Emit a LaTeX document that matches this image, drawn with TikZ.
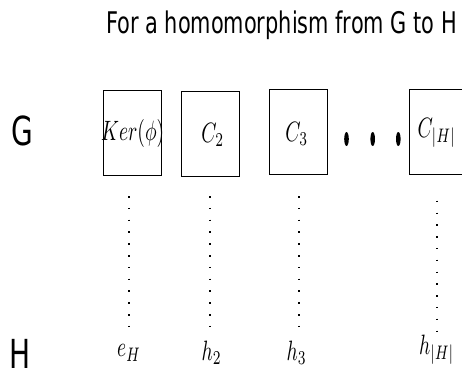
\documentclass[tikz,border=0pt]{standalone}
\usepackage{fontspec}
\newfontfamily\labelfont{DejaVu Sans}
\tikzset{
  cosetbox/.style={draw=black, line width=0.8pt, minimum width=58pt, minimum height=85pt, inner sep=0pt},
  mathlbl/.style={inner sep=0pt},
  dotline/.style={line width=1.5pt, dash pattern=on 1.5pt off 10.3pt},
  sidelbl/.style={inner sep=0pt, anchor=base, font=\labelfont\fontsize{40}{44}\selectfont},
  titlelbl/.style={inner sep=0pt, anchor=base, font=\labelfont\fontsize{29.8}{33}\selectfont},
}
\newcommand{\sq}[1]{\scalebox{0.7}[1]{#1}}
\newcommand{\mq}[1]{\scalebox{1.95}[2.8]{$#1$}}
\begin{document}
\begin{tikzpicture}[x=1pt,y=-1pt]
\useasboundingbox (0,0) rectangle (462,377);
\clip (0,0) rectangle (462,377);
% title
\node[titlelbl] (title) at (281.5,33.3) {\sq{For a homomorphism from G to H}};
% side labels
\node[sidelbl] (G) at (22.5,145) {\sq{G}};
\node[sidelbl] (H) at (19.7,368) {\sq{H}};
% boxes
\node[cosetbox] (k) at (132.7,132.7) {};
\node[cosetbox] (c2) at (210.3,133.5) {};
\node[cosetbox] (c3) at (298.7,131.8) {};
\node[cosetbox] (cn) at (438.3,132.2) {};
\node[mathlbl] (kl) at (132.7,133) {\mq{Ker(\phi)}};
\node[mathlbl] (c2l) at (212.7,135) {\mq{C_2}};
\node[mathlbl] (c3l) at (296.7,134) {\mq{C_3}};
\node[mathlbl] (cnl) at (436.7,133) {\mq{C_{|H|}}};
% big dots
\fill (346.5,139) ellipse (2.3 and 7);
\fill (372.7,139) ellipse (2.3 and 7);
\fill (398.3,139) ellipse (2.3 and 7);
% bottom labels
\node[mathlbl] (eH) at (129,353) {\mq{e_H}};
\node[mathlbl] (h2) at (211.7,353) {\mq{h_2}};
\node[mathlbl] (h3) at (296.7,353) {\mq{h_3}};
\node[mathlbl] (hn) at (436.7,350) {\mq{h_{|H|}}};
% dotted lines
\coordinate (t1) at (129,196);   \coordinate (b1) at (129,328);
\coordinate (t2) at (210,196);   \coordinate (b2) at (210,328);
\coordinate (t3) at (299,196);   \coordinate (b3) at (299,328);
\coordinate (t4) at (437,200.7); \coordinate (b4) at (437,333);
\draw[dotline] (t1) -- (b1);
\draw[dotline] (t2) -- (b2);
\draw[dotline] (t3) -- (b3);
\draw[dotline] (t4) -- (b4);
\end{tikzpicture}
\end{document}
